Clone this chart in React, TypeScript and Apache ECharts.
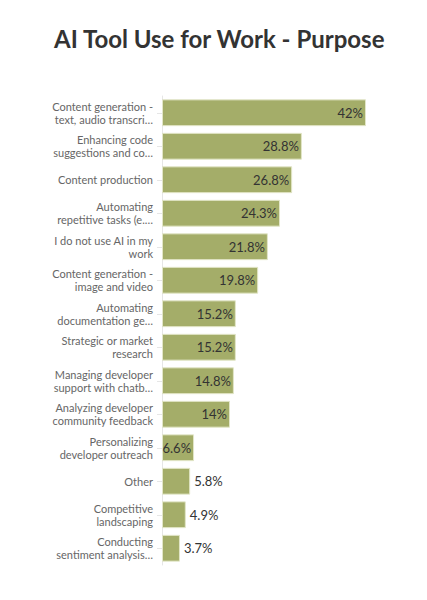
import React, { useEffect, useRef } from 'react';
import * as echarts from 'echarts';

const titleText = 'AI Tool Use for Work - Purpose';

const categories = [
  'Content generation -\ntext, audio transcri…',
  'Enhancing code\nsuggestions and co…',
  'Content production',
  'Automating\nrepetitive tasks (e.…',
  'I do not use AI in my\nwork',
  'Content generation -\nimage and video',
  'Automating\ndocumentation ge…',
  'Strategic or market\nresearch',
  'Managing developer\nsupport with chatb…',
  'Analyzing developer\ncommunity feedback',
  'Personalizing\ndeveloper outreach',
  'Other',
  'Competitive\nlandscaping',
  'Conducting\nsentiment analysis…',
];

const values = [42, 28.8, 26.8, 24.3, 21.8, 19.8, 15.2, 15.2, 14.8, 14, 6.6, 5.8, 4.9, 3.7];

const FONT = 'Lato';

const App: React.FC = () => {
  const chartRef = useRef<HTMLDivElement>(null);

  useEffect(() => {
    if (!chartRef.current) return;
    const chart = echarts.init(chartRef.current, null, { renderer: 'svg' });

    chart.setOption({
      animation: false,
      backgroundColor: '#ffffff',
      title: {
        text: titleText,
        left: 49,
        top: 21,
        textStyle: { fontFamily: FONT, fontSize: 24, fontWeight: 'bold', color: '#333333' },
      },
      grid: { left: 162, right: 61, top: 96, bottom: 35, containLabel: false },
      xAxis: {
        type: 'value',
        min: 0,
        max: 42,
        show: false,
      },
      yAxis: {
        type: 'category',
        inverse: true,
        data: categories,
        axisLine: { show: true, lineStyle: { color: '#e6e6e6' } },
        axisTick: { show: true, length: 5, alignWithLabel: true, lineStyle: { color: '#e6e6e6' } },
        axisLabel: {
          fontFamily: FONT,
          fontSize: 11,
          color: '#666666',
          margin: 9,
          lineHeight: 13,
          align: 'right',
        },
      },
      series: [
        {
          type: 'bar',
          barCategoryGap: '20%',
          itemStyle: { color: '#a4ad69', borderColor: '#e2e6c8', borderWidth: 1 },
          data: values.map((v) => ({
            value: v,
            label: {
              show: true,
              position: v < 6 ? 'right' : 'insideRight',
              distance: v < 6 ? 4 : 3,
              formatter: '{c}%',
              fontFamily: FONT,
              fontSize: 13,
              color: '#333333',
            },
          })),
        },
      ],
    });

    return () => {
      chart.dispose();
    };
  }, []);

  return (
    <div
      ref={chartRef}
      style={{ position: 'absolute', left: 0, top: 0, width: 427, height: 600 }}
    />
  );
};

export default App;
